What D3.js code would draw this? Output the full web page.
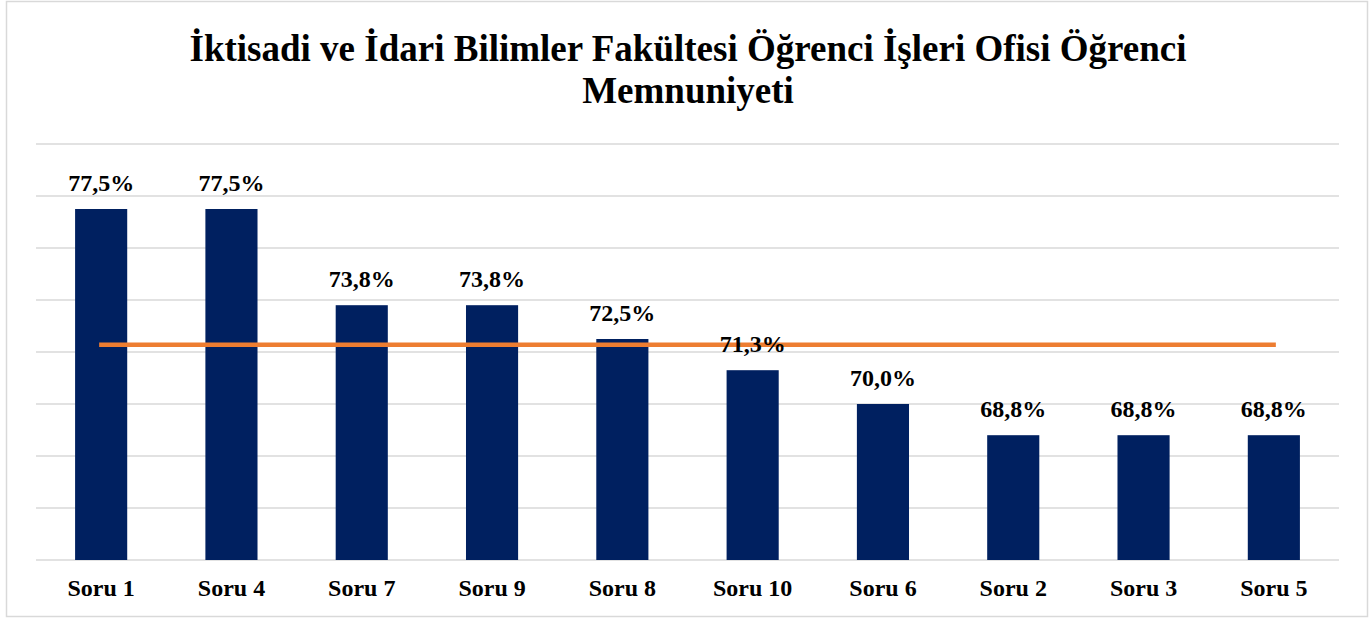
<!DOCTYPE html>
<html>
<head>
<meta charset="utf-8">
<script src="https://cdn.jsdelivr.net/npm/d3@7"></script>
<style>
  html, body { margin: 0; padding: 0; background: #fff; }
  svg { display: block; }
</style>
</head>
<body>
<svg id="chart" width="1370" height="619"></svg>
<script>
// Survey questions, sorted by satisfaction score
const categories = ["Soru 1", "Soru 4", "Soru 7", "Soru 9", "Soru 8", "Soru 10", "Soru 6", "Soru 2", "Soru 3", "Soru 5"];
const values = [77.5, 77.5, 73.8, 73.8, 72.5, 71.3, 70.0, 68.8, 68.8, 68.8];
const titleLines = ["İktisadi ve İdari Bilimler Fakültesi Öğrenci İşleri Ofisi Öğrenci", "Memnuniyeti"];
const gridTicks = [64, 66, 68, 70, 72, 74, 76, 78, 80];

const W = 1370, H = 619;
const margin = { left: 36, right: 31, top: 144, bottom: 59 };
const serif = "'Liberation Serif', 'Times New Roman', serif";
const svg = d3.select("#chart");

// outer frame
svg.append("rect")
  .attr("x", 6.5).attr("y", 1.5)
  .attr("width", 1361).attr("height", 615)
  .attr("fill", "#fff").attr("stroke", "#D9D9D9").attr("stroke-width", 1.5);

const x = d3.scaleBand()
  .domain(categories)
  .range([margin.left, W - margin.right])
  .paddingInner(0.6).paddingOuter(0.3);

const y = d3.scaleLinear()
  .domain([64, 80])
  .range([H - margin.bottom, margin.top]);

// title
svg.append("g").selectAll("text")
  .data(titleLines)
  .join("text")
  .attr("x", 688)
  .attr("y", (d, i) => 61 + i * 42)
  .attr("text-anchor", "middle")
  .attr("font-family", serif)
  .attr("font-weight", "bold")
  .attr("font-size", 37)
  .attr("fill", "#000")
  .text(d => d);

// horizontal gridlines
svg.append("g").selectAll("line")
  .data(gridTicks)
  .join("line")
  .attr("x1", margin.left).attr("x2", W - margin.right)
  .attr("y1", d => y(d)).attr("y2", d => y(d))
  .attr("stroke", "#D9D9D9").attr("stroke-width", 1.5);

// bars
svg.append("g").selectAll("rect")
  .data(values)
  .join("rect")
  .attr("x", (d, i) => x(categories[i]))
  .attr("y", d => y(d))
  .attr("width", x.bandwidth())
  .attr("height", d => y(64) - y(d))
  .attr("fill", "#002060");

// average line across the bar centres
const avg = d3.mean(values);
const xc = c => x(c) + x.bandwidth() / 2;
svg.append("line")
  .attr("x1", xc(categories[0]) - 2)
  .attr("x2", xc(categories[categories.length - 1]) + 2)
  .attr("y1", y(avg)).attr("y2", y(avg))
  .attr("stroke", "#ED7D31").attr("stroke-width", 4.5);

// value labels
svg.append("g").selectAll("text")
  .data(values)
  .join("text")
  .attr("x", (d, i) => xc(categories[i]))
  .attr("y", d => y(d) - 18)
  .attr("text-anchor", "middle")
  .attr("font-family", serif)
  .attr("font-weight", "bold")
  .attr("font-size", 24)
  .attr("fill", "#000")
  .text(d => d.toFixed(1).replace(".", ",") + "%");

// category axis
const xAxis = svg.append("g")
  .attr("transform", `translate(0,${y(64)})`)
  .call(d3.axisBottom(x).tickSize(0).tickPadding(19));
xAxis.select(".domain").remove();
xAxis.selectAll("text")
  .attr("font-family", serif)
  .attr("font-weight", "bold")
  .attr("font-size", 24)
  .attr("fill", "#000");
</script>
</body>
</html>
